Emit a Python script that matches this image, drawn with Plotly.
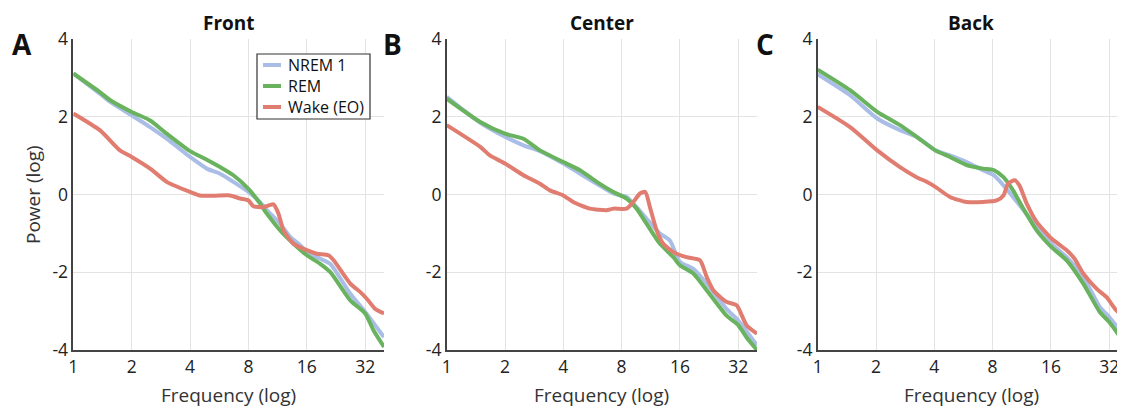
import plotly.graph_objects as go
import math

# ---------------- DATA ----------------
panels = ["Front", "Center", "Back"]
letters = ["A", "B", "C"]
series_names = ["NREM 1", "REM", "Wake (EO)"]
x_ticks = [1, 2, 4, 8, 16, 32]
y_ticks = [-4, -2, 0, 2, 4]

# Front
front_nrem_f = [1, 1.37, 1.55, 2, 2.49, 3.03, 4, 4.88, 5.71, 6.69, 8, 9.19, 9.95, 11.66, 13.13, 14.78, 16, 18.75, 21.1, 26.8, 32, 40]
front_nrem_v = [3.12, 2.60, 2.39, 2.04, 1.74, 1.44, 0.97, 0.67, 0.54, 0.33, 0.07, -0.19, -0.40, -0.75, -1.09, -1.30, -1.48, -1.65, -1.78, -2.55, -3.02, -3.67]
front_rem_f = [1, 1.37, 1.55, 2, 2.49, 3.03, 4, 4.88, 5.71, 6.69, 8, 9.19, 9.95, 11.66, 13.13, 16, 18.75, 21.1, 26.8, 32, 35.3, 40]
front_rem_v = [3.12, 2.64, 2.43, 2.13, 1.91, 1.57, 1.12, 0.90, 0.71, 0.50, 0.15, -0.23, -0.49, -0.92, -1.18, -1.56, -1.78, -1.99, -2.72, -3.06, -3.49, -3.92]
front_wake_f = [1, 1.37, 1.74, 2, 2.49, 3.03, 3.41, 4, 4.5, 5.28, 6.43, 7.25, 8, 8.49, 9.56, 10.77, 11.43, 12.13, 13.65, 16, 18.0, 20.7, 22.0, 26.8, 30.2, 32.6, 36.0, 40]
front_wake_v = [2.09, 1.66, 1.14, 0.97, 0.67, 0.33, 0.21, 0.07, -0.02, -0.03, -0.02, -0.10, -0.15, -0.30, -0.32, -0.25, -0.49, -0.92, -1.26, -1.43, -1.52, -1.56, -1.69, -2.29, -2.51, -2.68, -2.94, -3.06]

# Center
center_nrem_f = [1, 1.49, 2, 2.49, 3.03, 4, 4.88, 5.95, 7.25, 8.49, 9.56, 10.77, 12.6, 14.2, 16, 18.75, 22, 27.8, 32, 40]
center_nrem_v = [2.52, 1.85, 1.49, 1.27, 1.12, 0.80, 0.54, 0.28, 0.03, -0.06, -0.32, -0.62, -1.00, -1.18, -1.73, -1.91, -2.29, -2.94, -3.24, -3.88]
center_rem_f = [1, 1.49, 2, 2.49, 3.03, 4, 4.88, 5.95, 7.25, 8.49, 9.56, 10.77, 12.6, 14.8, 16, 18.75, 22, 27.8, 32, 35.3, 40]
center_rem_v = [2.47, 1.87, 1.57, 1.44, 1.14, 0.84, 0.63, 0.33, 0.07, -0.10, -0.36, -0.75, -1.26, -1.61, -1.82, -2.03, -2.46, -3.11, -3.36, -3.67, -4.00]
center_wake_f = [1, 1.49, 1.67, 2, 2.49, 3.03, 3.41, 4, 4.5, 5.49, 6.69, 7.25, 8.49, 9.19, 9.95, 10.6, 11.2, 12.13, 13.1, 14.8, 17.3, 20.3, 22, 23.8, 27.8, 31.4, 35.3, 40]
center_wake_v = [1.79, 1.23, 1.01, 0.80, 0.50, 0.28, 0.11, -0.02, -0.19, -0.36, -0.40, -0.36, -0.36, -0.19, 0.03, 0.07, -0.32, -0.92, -1.26, -1.48, -1.61, -1.69, -2.12, -2.46, -2.76, -2.85, -3.36, -3.58]

# Back
back_nrem_f = [1, 1.47, 2.03, 2.66, 3.24, 4.05, 4.82, 5.87, 7.13, 8.1, 9.1, 10.2, 11.4, 13.5, 16.1, 19.3, 23.5, 28.6, 32, 38.6]
back_nrem_v = [3.10, 2.56, 1.96, 1.66, 1.49, 1.14, 1.01, 0.84, 0.63, 0.50, 0.24, -0.06, -0.36, -0.83, -1.26, -1.61, -2.12, -2.89, -3.15, -3.67]
back_rem_f = [1, 1.47, 2.03, 2.66, 3.24, 4.05, 4.82, 5.87, 7.13, 8.1, 9.1, 10.2, 11.4, 13.5, 16.1, 19.3, 23.5, 28.6, 32, 38.6]
back_rem_v = [3.22, 2.69, 2.13, 1.79, 1.49, 1.14, 0.97, 0.76, 0.67, 0.63, 0.45, 0.11, -0.32, -0.92, -1.35, -1.69, -2.29, -3.02, -3.28, -3.84]
back_wake_f = [1, 1.47, 2.03, 2.66, 3.24, 3.65, 4.05, 4.82, 5.87, 7.13, 8.4, 9.1, 9.6, 10.4, 11.0, 12.0, 13.5, 16.1, 19.3, 21.2, 23.5, 27.5, 31.0, 34.8, 38.6]
back_wake_v = [2.26, 1.74, 1.14, 0.71, 0.45, 0.33, 0.20, -0.06, -0.19, -0.19, -0.15, -0.02, 0.28, 0.37, 0.24, -0.23, -0.70, -1.13, -1.43, -1.65, -2.03, -2.42, -2.64, -2.98, -3.15]

data = [
    [(front_nrem_f, front_nrem_v), (front_rem_f, front_rem_v), (front_wake_f, front_wake_v)],
    [(center_nrem_f, center_nrem_v), (center_rem_f, center_rem_v), (center_wake_f, center_wake_v)],
    [(back_nrem_f, back_nrem_v), (back_rem_f, back_rem_v), (back_wake_f, back_wake_v)],
]

# ---------------- STYLE ----------------
W, H = 1125, 407
OFF = 8  # page body margin in the browser
colors = ["#a9bde6", "#6ab35e", "#e07d70"]
FONT = "Open Sans"
x_px = [(73.3, 384.0), (446.7, 757.0), (817.7, 1125.0)]
x_max = [40, 40, 38.6]
y_top_px, y_bot_px = 39.3, 350.0


def fx(px):
    return (px - OFF) / W


def fy(py):
    return (H - (py - OFF)) / H


ydom = [fy(y_bot_px), fy(y_top_px)]

fig = go.Figure()
for p in range(3):
    xa = "x" if p == 0 else f"x{p+1}"
    ya = "y" if p == 0 else f"y{p+1}"
    for s in range(3):
        f, v = data[p][s]
        fig.add_trace(go.Scatter(
            x=f, y=v, mode="lines", name=series_names[s],
            line=dict(color=colors[s], width=4, shape="spline", smoothing=0.6),
            xaxis=xa, yaxis=ya, showlegend=False, cliponaxis=True,
        ))

layout = dict(
    template="none",
    width=W, height=H,
    margin=dict(l=0, r=0, t=0, b=0, autoexpand=False),
    paper_bgcolor="white", plot_bgcolor="white",
    font=dict(family=FONT, size=16, color="#222"),
    showlegend=False,
    annotations=[],
    shapes=[],
)
for p in range(3):
    sfx = "" if p == 0 else str(p + 1)
    x0, x1 = x_px[p]
    layout["xaxis" + sfx] = dict(
        domain=[fx(x0), min(1.0, fx(x1))], anchor="y" + sfx, type="log",
        range=[0, math.log10(x_max[p])], automargin=False,
        tickvals=x_ticks, ticktext=[str(t) for t in x_ticks],
        showgrid=True, gridcolor="#e3e3e3", gridwidth=1,
        showline=True, linecolor="#444", linewidth=1.5,
        ticks="", tickfont=dict(size=17.5, color="#222"),
        zeroline=False,
    )
    layout["yaxis" + sfx] = dict(
        domain=ydom, anchor="x" + sfx, range=[-4, 4], automargin=False,
        tickvals=y_ticks, ticktext=[str(t) for t in y_ticks],
        showgrid=True, gridcolor="#e3e3e3", gridwidth=1,
        showline=True, linecolor="#444", linewidth=1.5,
        ticks="", tickfont=dict(size=17.5, color="#222"),
        zeroline=False,
    )
    cx = (x0 + x1) / 2
    layout["annotations"].append(dict(
        text="<b>" + panels[p] + "</b>", x=fx(cx), y=fy(23),
        xref="paper", yref="paper", showarrow=False,
        xanchor="center", yanchor="middle", font=dict(size=19, family=FONT, color="#111")))
    layout["annotations"].append(dict(
        text="Frequency (log)", x=fx(cx), y=fy(395),
        xref="paper", yref="paper", showarrow=False,
        xanchor="center", yanchor="middle", font=dict(size=19, family=FONT, color="#333")))
letter_x = [22, 392, 765]
for p in range(3):
    layout["annotations"].append(dict(
        text="<b>" + letters[p] + "</b>", x=fx(letter_x[p]), y=fy(44),
        xref="paper", yref="paper", showarrow=False,
        xanchor="center", yanchor="middle", font=dict(size=28, family=FONT, color="#111")))
layout["annotations"].append(dict(
    text="Power (log)", x=fx(33), y=fy(195), textangle=-90,
    xref="paper", yref="paper", showarrow=False,
    xanchor="center", yanchor="middle", font=dict(size=19, family=FONT, color="#333")))

# Legend (box, swatches and labels) in panel A
leg_box = (257, 54, 370, 119)
leg_rows_y = [65, 86, 107]
layout["shapes"].append(dict(
    type="rect", xref="paper", yref="paper",
    x0=fx(leg_box[0]), x1=fx(leg_box[2]), y0=fy(leg_box[3]), y1=fy(leg_box[1]),
    line=dict(color="#333", width=1.2), fillcolor="white", layer="above"))
for s in range(3):
    yy = fy(leg_rows_y[s])
    layout["shapes"].append(dict(
        type="line", xref="paper", yref="paper",
        x0=fx(263), x1=fx(281), y0=yy, y1=yy,
        line=dict(color=colors[s], width=4), layer="above"))
    layout["annotations"].append(dict(
        text=series_names[s], x=fx(286), y=yy,
        xref="paper", yref="paper", showarrow=False,
        xanchor="left", yanchor="middle", font=dict(size=16, family=FONT, color="#111")))

fig.update_layout(**layout)
fig.write_html("out.html")
